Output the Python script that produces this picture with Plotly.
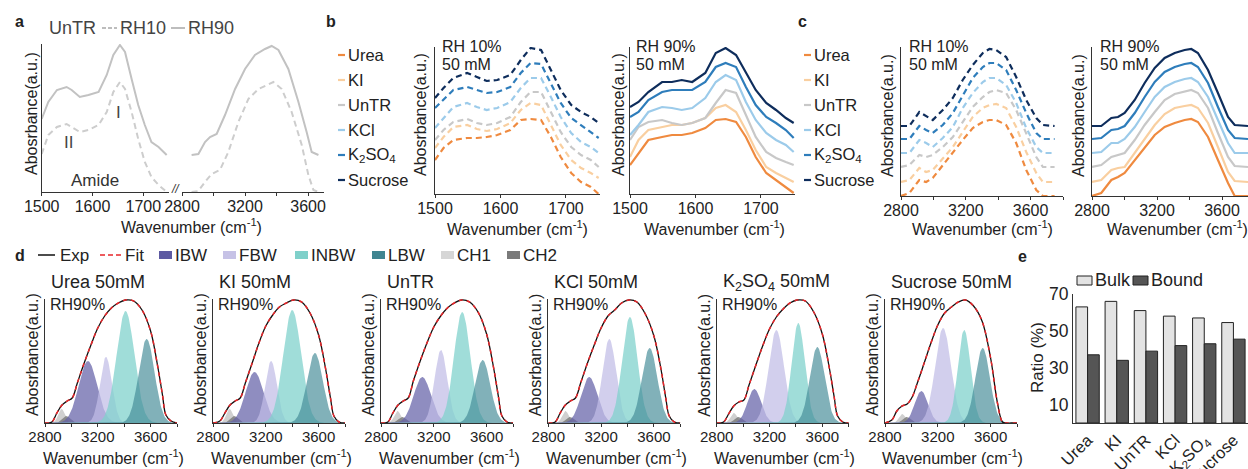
import numpy as np
import plotly.graph_objects as go

W, H = 1248, 469
FONT = "Liberation Sans, Arial, Helvetica, sans-serif"
TXT = "#222222"

# ---------------- Panel a : UnTR spectra (heights in arbitrary units) ----------------
A_X_AMIDE = [1500, 1513, 1530, 1549, 1559, 1575, 1592, 1612, 1628, 1641, 1654, 1664, 1677, 1690, 1703, 1716, 1730, 1746]
A_RH90_AMIDE = [73, 90, 102, 105, 102, 95, 97, 100, 117, 137, 147, 140, 113, 87, 67, 50, 45, 37]
A_RH10_AMIDE = [38, 57, 65, 68, 65, 60, 62, 67, 80, 100, 110, 103, 80, 53, 30, 15, 7, 0]
A_X_OH_90 = [2861, 2904, 2946, 2978, 3020, 3073, 3137, 3200, 3263, 3327, 3369, 3412, 3475, 3539, 3591, 3623, 3666]
A_RH90_OH = [37, 38, 50, 55, 58, 77, 103, 123, 137, 143, 146, 142, 123, 90, 60, 40, 37]
A_X_OH_10 = [2861, 2904, 2946, 2988, 3041, 3094, 3158, 3221, 3285, 3348, 3380, 3433, 3496, 3560, 3602, 3634, 3666]
A_RH10_OH = [0, 1, 10, 18, 22, 40, 70, 93, 103, 108, 110, 103, 80, 47, 17, 2, 0]

# ---------------- Panels b, c ----------------
SERIES = ["Urea", "KI", "UnTR", "KCl", "K<sub>2</sub>SO<sub>4</sub>", "Sucrose"]
SERIES_COLORS = ["#ef8a3f", "#f9cfa0", "#c8c8c8", "#9ccbea", "#2e7dbb", "#0e2d5c"]

B_X = [1500, 1513, 1528, 1549, 1564, 1579, 1595, 1615, 1631, 1646, 1662, 1677, 1692, 1708, 1723, 1738, 1750]
B_RH10 = [
    [34, 46, 54, 56, 56, 57, 59, 64, 74, 75, 74, 57, 37, 21, 12, 7, 0],
    [46, 57, 67, 69, 65, 63, 65, 71, 84, 91, 89, 69, 49, 34, 26, 21, 16],
    [54, 64, 72, 75, 71, 69, 71, 77, 92, 102, 102, 82, 62, 47, 39, 34, 27],
    [66, 76, 87, 91, 87, 84, 86, 92, 106, 116, 116, 97, 77, 61, 52, 47, 41],
    [86, 94, 104, 107, 104, 101, 102, 107, 121, 131, 130, 111, 91, 76, 69, 62, 56],
    [96, 106, 116, 121, 117, 113, 114, 119, 134, 146, 144, 124, 104, 89, 82, 77, 71],
]
B_RH90 = [
    [29, 41, 54, 57, 59, 59, 61, 66, 74, 75, 72, 57, 37, 21, 14, 7, 1],
    [37, 54, 64, 67, 69, 69, 71, 76, 86, 89, 82, 64, 44, 27, 21, 16, 12],
    [54, 67, 72, 74, 71, 69, 71, 76, 91, 104, 101, 79, 57, 42, 36, 32, 29],
    [59, 69, 82, 87, 86, 84, 86, 96, 112, 119, 114, 92, 74, 61, 54, 49, 42],
    [77, 82, 94, 102, 104, 104, 104, 112, 127, 131, 127, 107, 89, 77, 71, 64, 56],
    [87, 92, 102, 112, 112, 114, 112, 121, 141, 146, 139, 121, 104, 91, 84, 76, 71],
]

C_X10 = [2800, 2852, 2913, 2955, 2996, 3058, 3120, 3181, 3243, 3305, 3346, 3388, 3449, 3511, 3573, 3635, 3676, 3748]
C_RH10 = [
    [0, 3, 16, 14, 18, 31, 44, 56, 68, 74, 76, 76, 71, 53, 26, 6, 0, 0],
    [14, 16, 28, 24, 26, 38, 49, 64, 79, 88, 91, 92, 88, 69, 44, 23, 14, 14],
    [29, 31, 41, 39, 41, 49, 59, 74, 89, 99, 104, 106, 103, 86, 63, 39, 29, 29],
    [43, 43, 56, 53, 49, 58, 69, 88, 103, 114, 118, 118, 111, 93, 68, 49, 43, 43],
    [57, 57, 70, 66, 63, 71, 83, 101, 118, 129, 133, 133, 126, 106, 83, 63, 57, 57],
    [70, 70, 84, 80, 76, 86, 98, 116, 131, 143, 147, 146, 139, 119, 96, 78, 71, 70],
]
C_X90 = [2800, 2857, 2919, 2960, 3001, 3063, 3124, 3186, 3247, 3309, 3370, 3411, 3452, 3514, 3575, 3637, 3678, 3760]
C_RH90 = [
    [0, 3, 16, 19, 23, 36, 49, 61, 69, 73, 76, 77, 74, 59, 36, 13, 0, 0],
    [14, 16, 26, 28, 29, 43, 58, 71, 82, 88, 90, 91, 88, 73, 49, 24, 15, 14],
    [29, 31, 39, 41, 43, 56, 71, 84, 96, 102, 104, 106, 103, 88, 63, 39, 30, 29],
    [43, 44, 53, 53, 57, 69, 84, 99, 109, 114, 117, 118, 114, 99, 76, 53, 43, 43],
    [57, 58, 66, 67, 70, 83, 99, 114, 124, 129, 132, 133, 129, 113, 89, 66, 58, 57],
    [70, 70, 78, 79, 83, 96, 113, 128, 138, 143, 146, 147, 143, 126, 103, 79, 71, 70],
]

# ---------------- Panel d : fitted spectra (RH 90%) ----------------
D_TITLES = ["Urea 50mM", "KI 50mM", "UnTR", "KCl 50mM", "K<sub>2</sub>SO<sub>4</sub> 50mM", "Sucrose 50mM"]
D_X = [2800, 2852, 2890, 2929, 2968, 3006, 3045, 3097, 3148, 3200, 3252, 3303, 3355, 3410, 3471, 3535, 3600, 3652, 3690, 3716, 3755, 3800]
D_EXP = [
    [0, 1, 10, 18, 22, 25, 40, 60, 78, 95, 107, 115, 120, 123, 122, 113, 92, 58, 28, 8, 2, 0],
    [0, 2, 10, 18, 22, 25, 40, 60, 80, 97, 108, 116, 120, 123, 121, 110, 88, 55, 25, 7, 1, 0],
    [0, 1, 10, 18, 22, 25, 42, 62, 80, 96, 107, 115, 120, 123, 121, 111, 89, 56, 26, 7, 1, 0],
    [0, 1, 10, 18, 22, 25, 40, 60, 78, 95, 107, 113, 120, 123, 121, 109, 87, 55, 25, 7, 1, 0],
    [0, 1, 9, 17, 21, 23, 38, 58, 77, 94, 106, 114, 120, 123, 122, 111, 89, 56, 26, 7, 1, 0],
    [0, 3, 12, 17, 19, 26, 40, 60, 80, 98, 110, 116, 121, 123, 117, 102, 65, 20, 1, 0, 0, 0],
]
# fitted Gaussian components: (centre cm-1, height, sigma cm-1)
COMP_NAMES = ["CH1", "CH2", "IBW", "FBW", "INBW", "LBW"]
COMP_FILL = ["rgba(200,200,200,0.85)", "rgba(115,115,115,0.75)", "rgba(100,97,168,0.72)",
             "rgba(192,188,230,0.72)", "rgba(128,210,204,0.75)", "rgba(70,140,152,0.68)"]
COMP_LEG = ["#d6d6d6", "#7a7a7a", "#5d5aa2", "#c6c2e6", "#7fd0ca", "#3f8591"]
D_COMP = [
    [(2925, 14, 25), (2962, 7, 30), (3125, 62, 70), (3262, 66, 45), (3410, 112, 68), (3570, 84, 60)],
    [(2925, 14, 25), (2962, 7, 30), (3115, 51, 68), (3240, 62, 45), (3400, 113, 68), (3572, 70, 60)],
    [(2925, 12, 25), (2962, 6, 30), (3113, 46, 65), (3254, 73, 48), (3415, 111, 62), (3570, 63, 58)],
    [(2930, 12, 25), (2965, 6, 30), (3110, 46, 62), (3262, 84, 52), (3418, 106, 58), (3568, 75, 58)],
    [(2930, 10, 25), (2965, 6, 30), (3085, 34, 52), (3252, 93, 58), (3418, 100, 50), (3562, 76, 56)],
    [(2930, 9, 25), (2965, 6, 30), (3075, 32, 50), (3240, 95, 60), (3400, 93, 48), (3540, 75, 55)],
]

# ---------------- Panel e : bulk / bound water ratio ----------------
E_CATS = ["Urea", "KI", "UnTR", "KCl", "K<sub>2</sub>SO<sub>4</sub>", "Sucrose"]
E_BULK = [63, 66, 61, 58, 57, 54.5]
E_BOUND = [37, 34, 39, 42, 43, 45.5]

# ======================================================================
fig = go.Figure()
layout = dict(width=W, height=H, margin=dict(l=0, r=0, t=0, b=0, autoexpand=False),
              paper_bgcolor="white", plot_bgcolor="white", showlegend=False,
              font=dict(family=FONT, size=16, color=TXT))
annotations = []
shapes = []


def fx(p):
    return p / W


def fy(p):
    return 1 - p / H


def ax_names(n):
    return ("x", "y") if n == 1 else (f"x{n}", f"y{n}")


def add_axes(n, x0, x1, ytop, ybot, xr, yr, tickvals=None, ticktext=None, tsize=16,
             yline=True, xline=True, xkw=None, ykw=None):
    xn, yn = ax_names(n)
    xa = dict(domain=[fx(x0), fx(x1)], range=xr, anchor=yn, showgrid=False, zeroline=False,
              showline=xline, linecolor="#333", linewidth=1.2, ticks="outside", ticklen=3,
              tickwidth=1, tickcolor="#333", tickfont=dict(size=tsize, color=TXT),
              ticklabelstandoff=-3)
    if tickvals is not None:
        xa.update(tickmode="array", tickvals=tickvals, ticktext=ticktext)
    if xkw:
        xa.update(xkw)
    ya = dict(domain=[fy(ybot), fy(ytop)], range=yr, anchor=xn, showgrid=False, zeroline=False,
              showline=yline, linecolor="#333", linewidth=1.2, ticks="", showticklabels=False)
    if ykw:
        ya.update(ykw)
    layout["xaxis" if n == 1 else f"xaxis{n}"] = xa
    layout["yaxis" if n == 1 else f"yaxis{n}"] = ya
    return xn, yn


def ann(text, x, y, size=16, xanchor="left", yanchor="middle", color=TXT, angle=0):
    annotations.append(dict(text=text, x=fx(x), y=fy(y), xref="paper", yref="paper",
                            xanchor=xanchor, yanchor=yanchor, showarrow=False, textangle=angle,
                            font=dict(size=size, color=color, family=FONT)))


def hline(x0, x1, y, color, width=2, dash="solid"):
    shapes.append(dict(type="line", xref="paper", yref="paper", x0=fx(x0), x1=fx(x1),
                       y0=fy(y), y1=fy(y), line=dict(color=color, width=width, dash=dash)))


def rect(x0, x1, y0, y1, fill, line="rgba(0,0,0,0)", lw=0):
    shapes.append(dict(type="rect", xref="paper", yref="paper", x0=fx(x0), x1=fx(x1),
                       y0=fy(y1), y1=fy(y0), fillcolor=fill, line=dict(color=line, width=lw)))


WN = "Wavenumber (cm<sup>-1</sup>)"
YT = "Abosrbance(a.u.)"

# ---------------- panel a ----------------
xa1, ya1 = add_axes(1, 41.7, 168.7, 44, 192, [1500, 1750], [0, 148],
                    tickvals=[1500, 1600, 1700], ticktext=["1500", "1600", "1700"])
xa2, ya2 = add_axes(2, 182, 323.8, 44, 192, [2800, 3700], [0, 148], yline=False,
                    tickvals=[2800, 3000, 3200, 3400, 3600], ticktext=["2800", "", "3200", "", "3600"])
GRAY90, GRAY10 = "#c2c2c2", "#cdcdcd"
fig.add_trace(go.Scatter(x=A_X_AMIDE, y=A_RH90_AMIDE, mode="lines", line=dict(color=GRAY90, width=2), xaxis=xa1, yaxis=ya1))
fig.add_trace(go.Scatter(x=A_X_AMIDE, y=A_RH10_AMIDE, mode="lines", line=dict(color=GRAY10, width=2, dash="6px,4px"), xaxis=xa1, yaxis=ya1))
fig.add_trace(go.Scatter(x=A_X_OH_90, y=A_RH90_OH, mode="lines", line=dict(color=GRAY90, width=2), xaxis=xa2, yaxis=ya2))
fig.add_trace(go.Scatter(x=A_X_OH_10, y=A_RH10_OH, mode="lines", line=dict(color=GRAY10, width=2, dash="6px,4px"), xaxis=xa2, yaxis=ya2))
ann("<b>a</b>", 13, 21, size=16)
ann("UnTR", 47, 28, size=18, color="#444")
hline(102, 117, 28, "#bdbdbd", 2, "4px,2px")
ann("RH10", 118, 28, size=18, color="#444")
hline(171, 185, 28, "#bdbdbd", 2)
ann("RH90", 186, 28, size=18, color="#444")
ann("II", 68, 142, size=17, xanchor="center", color="#444")
ann("I", 118, 113, size=17, xanchor="center", color="#444")
ann("Amide", 69, 180, size=17, color="#333")
ann("<i>//</i>", 175, 189, size=12, xanchor="center", color="#333")
ann(WN, 191, 226, size=16, xanchor="center")
ann(YT, 31, 114, size=16, xanchor="center", angle=-90)

# ---------------- panel b ----------------
xb1, yb1 = add_axes(3, 435, 600, 47, 194, [1500, 1752], [0, 147],
                    tickvals=[1500, 1600, 1700], ticktext=["1500", "1600", "1700"])
xb2, yb2 = add_axes(4, 630, 795, 47, 194, [1500, 1752], [0, 147],
                    tickvals=[1500, 1600, 1700], ticktext=["1500", "1600", "1700"])
for i in range(6):
    fig.add_trace(go.Scatter(x=B_X, y=B_RH10[i], mode="lines",
                             line=dict(color=SERIES_COLORS[i], width=2.2, dash="6px,4px"), xaxis=xb1, yaxis=yb1))
    fig.add_trace(go.Scatter(x=B_X, y=B_RH90[i], mode="lines",
                             line=dict(color=SERIES_COLORS[i], width=2.2), xaxis=xb2, yaxis=yb2))
ann("<b>b</b>", 324, 21, size=16)
for i in range(6):
    y = 55 + 25 * i
    hline(338, 345, y, SERIES_COLORS[i], 2.2)
    ann(SERIES[i], 346, y, size=16.5)
ann("RH 10%", 440, 47, size=16)
ann("50 mM", 440, 64, size=16)
ann("RH 90%", 634, 47, size=16)
ann("50 mM", 634, 64, size=16)
ann(WN, 517, 228, size=16, xanchor="center")
ann(WN, 714, 228, size=16, xanchor="center")
ann(YT, 421, 115, size=16, xanchor="center", angle=-90)
ann(YT, 619, 115, size=16, xanchor="center", angle=-90)

# ---------------- panel c ----------------
CT = [2800, 3000, 3200, 3400, 3600, 3800]
CTT = ["2800", "", "3200", "", "3600", ""]
xc1, yc1 = add_axes(5, 901, 1063, 47, 196, [2800, 3800], [0, 149], tickvals=CT, ticktext=CTT)
xc2, yc2 = add_axes(6, 1092, 1248, 47, 196, [2800, 3760], [0, 149], tickvals=CT, ticktext=CTT)
for i in range(6):
    fig.add_trace(go.Scatter(x=C_X10, y=C_RH10[i], mode="lines",
                             line=dict(color=SERIES_COLORS[i], width=2.2, dash="6px,4px"), xaxis=xc1, yaxis=yc1))
    fig.add_trace(go.Scatter(x=C_X90, y=C_RH90[i], mode="lines",
                             line=dict(color=SERIES_COLORS[i], width=2.2), xaxis=xc2, yaxis=yc2))
ann("<b>c</b>", 796, 21, size=16)
for i in range(6):
    y = 55 + 25 * i
    hline(804, 811, y, SERIES_COLORS[i], 2.2)
    ann(SERIES[i], 812, y, size=16.5)
ann("RH 10%", 907, 47, size=16)
ann("50 mM", 907, 64, size=16)
ann("RH 90%", 1098, 47, size=16)
ann("50 mM", 1098, 64, size=16)
ann(WN, 982, 228, size=16, xanchor="center")
ann(WN, 1177, 228, size=16, xanchor="center")
ann(YT, 887, 116, size=16, xanchor="center", angle=-90)
ann(YT, 1078, 116, size=16, xanchor="center", angle=-90)

# ---------------- panel d ----------------
D_LEFT = [45, 213, 381, 548.3, 716.7, 885]
grid = np.linspace(2800, 3800, 251)
for k in range(6):
    n = 7 + k
    x0 = D_LEFT[k]
    xd, yd = add_axes(n, x0, x0 + 132, 299, 423, [2800, 3800], [0, 124], tickvals=CT, ticktext=CTT, tsize=15)
    for j, (c, h, s) in enumerate(D_COMP[k]):
        fig.add_trace(go.Scatter(x=grid, y=h * np.exp(-0.5 * ((grid - c) / s) ** 2), mode="lines",
                                 line=dict(width=0, color=COMP_FILL[j]), fill="tozeroy",
                                 fillcolor=COMP_FILL[j], xaxis=xd, yaxis=yd))
    fig.add_trace(go.Scatter(x=D_X, y=D_EXP[k], mode="lines", line=dict(color="#111", width=1.3, shape="spline"),
                             xaxis=xd, yaxis=yd))
    fig.add_trace(go.Scatter(x=D_X, y=D_EXP[k], mode="lines",
                             line=dict(color="#e8262a", width=1.5, dash="4px,4px", shape="spline"),
                             xaxis=xd, yaxis=yd))
    ann(D_TITLES[k], x0 + 4, 282, size=18)
    ann("RH90%", x0 + 3, 304, size=16)
    ann(WN, x0 + 68, 457, size=16, xanchor="center")
    ann(YT, x0 - 13, 355, size=16, xanchor="center", angle=-90)

ann("<b>d</b>", 13, 255, size=16)
hline(38, 55, 255, "#111", 1.5)
ann("Exp", 58, 255, size=17)
hline(100, 121, 255, "#e8262a", 1.5, "5px,3px")
ann("Fit", 123, 255, size=17)
leg_pos = [(159, "IBW", 2), (223, "FBW", 3), (295, "INBW", 4), (372, "LBW", 5), (441, "CH1", 0), (507, "CH2", 1)]
for xp, name, j in leg_pos:
    rect(xp, xp + 13, 251, 259, COMP_LEG[j])
    ann(name, xp + 14, 255, size=17)

# ---------------- panel e ----------------
xe, ye = add_axes(13, 1073, 1248, 294, 423, None, [0, 70],
                  xkw=dict(type="category", ticks="", tickangle=-45, tickfont=dict(size=16.5, color=TXT),
                           range=[-0.5, 5.5], ticklabelstandoff=0),
                  ykw=dict(showticklabels=True, tickmode="array", tickvals=[10, 30, 50, 70],
                           tickfont=dict(size=17.5, color=TXT), ticks=""))
fig.add_trace(go.Bar(x=E_CATS, y=E_BULK, marker=dict(color="#e3e3e3", line=dict(color="#222", width=1)),
                     xaxis=xe, yaxis=ye))
fig.add_trace(go.Bar(x=E_CATS, y=E_BOUND, marker=dict(color="#555555", line=dict(color="#222", width=1)),
                     xaxis=xe, yaxis=ye))
layout.update(barmode="group", bargap=0.2, bargroupgap=0)
ann("<b>e</b>", 1016, 256, size=16)
rect(1077, 1092, 276, 285, "#e3e3e3", "#222", 1)
ann("Bulk", 1093, 280, size=18)
rect(1133, 1148, 276, 285, "#555555", "#222", 1)
ann("Bound", 1149, 280, size=18)
ann("Ratio (%)", 1037, 358, size=17, xanchor="center", angle=-90)

layout["annotations"] = annotations
layout["shapes"] = shapes
fig.update_layout(**layout)
fig.write_html("out.html", config={"displayModeBar": False}, post_script=[
    "document.body.style.margin='0px';document.body.style.padding='0px';"
    "document.documentElement.style.overflow='hidden';document.body.style.overflow='hidden';"
])
